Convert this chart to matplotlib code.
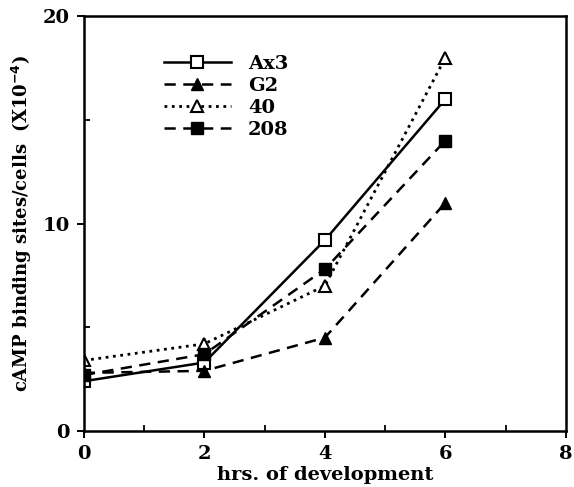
import matplotlib
matplotlib.use("Agg")
import matplotlib.pyplot as plt
from matplotlib.ticker import MultipleLocator

plt.rcParams['font.family'] = 'DejaVu Serif'
plt.rcParams['font.weight'] = 'bold'

hours = [0, 2, 4, 6]
ax3 = [2.4, 3.3, 9.2, 16.0]
g2 = [2.8, 2.9, 4.5, 11.0]
s40 = [3.4, 4.2, 7.0, 18.0]
s208 = [2.7, 3.7, 7.8, 14.0]

fig = plt.figure(figsize=(5.74, 4.87), dpi=100)
ax = fig.add_axes([0.146, 0.115, 0.840, 0.852])

ax.plot(hours, ax3, '-', color='black', lw=1.8, marker='s', ms=8,
        mfc='white', mec='black', mew=1.5, label='Ax3')
ax.plot(hours, g2, '--', color='black', lw=1.8, marker='^', ms=8,
        mfc='black', mec='black', label='G2', dashes=(4.5, 3))
ax.plot(hours, s40, ':', color='black', lw=2.0, marker='^', ms=9,
        mfc='white', mec='black', mew=1.5, label='40')
ax.plot(hours, s208, '--', color='black', lw=1.8, marker='s', ms=8,
        mfc='black', mec='black', label='208', dashes=(4.5, 3))

ax.set_xlim(0, 8)
ax.set_ylim(0, 20)
ax.xaxis.set_major_locator(MultipleLocator(2))
ax.xaxis.set_minor_locator(MultipleLocator(1))
ax.yaxis.set_major_locator(MultipleLocator(10))
ax.yaxis.set_minor_locator(MultipleLocator(5))
ax.tick_params(which='major', direction='out', length=5, width=1.4,
               labelsize=14, pad=5)
ax.tick_params(which='minor', direction='in', length=4, width=1.3)
for s in ax.spines.values():
    s.set_linewidth(1.8)

ax.set_xlabel('hrs. of development', fontsize=14, fontweight='bold', labelpad=2)
ax.set_ylabel('cAMP binding sites/cells  (X10$^{\\mathbf{-4}}$)', fontsize=13,
              fontweight='bold', labelpad=6)

ax.legend(loc='upper left', bbox_to_anchor=(0.147, 0.93), frameon=False,
          handlelength=3.4, fontsize=14, labelspacing=0.2, handletextpad=0.9,
          borderpad=0)

fig.savefig('out.png', dpi=100)
